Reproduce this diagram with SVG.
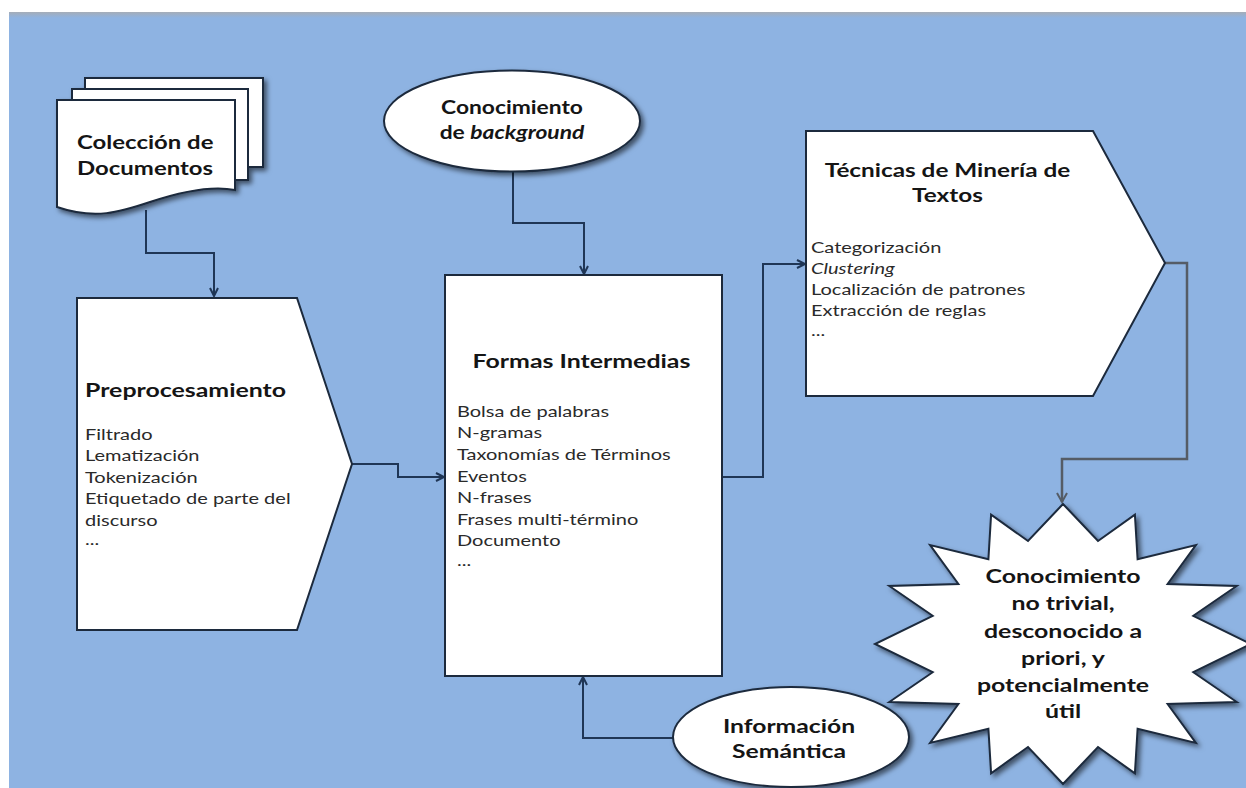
<svg xmlns="http://www.w3.org/2000/svg" width="1246" height="788" viewBox="0 0 1246 788">
<defs>
<filter id="sh" x="-20%" y="-20%" width="150%" height="150%">
<feDropShadow dx="3" dy="3" stdDeviation="2.5" flood-color="#000" flood-opacity="0.55"/>
</filter>
<marker id="arr" markerWidth="12" markerHeight="12" refX="9" refY="5" orient="auto" markerUnits="userSpaceOnUse">
<path d="M1,1 L9,5 L1,9" fill="none" stroke="#1f3656" stroke-width="2"/>
</marker>
<marker id="arrg" markerWidth="14" markerHeight="14" refX="10" refY="6" orient="auto" markerUnits="userSpaceOnUse">
<path d="M1,1 L10,6 L1,11" fill="none" stroke="#555c66" stroke-width="2"/>
</marker>
<linearGradient id="topband" x1="0" y1="0" x2="0" y2="1">
<stop offset="0" stop-color="#a5adb8"/>
<stop offset="1" stop-color="#8eb3e2"/>
</linearGradient>
</defs>
<style>
.shape{fill:#fff;stroke:#1c2a3d;stroke-width:2}
.title{font-family:Lato,"Liberation Sans",sans-serif;font-weight:bold;font-size:19px;fill:#151515}
.item{font-family:Lato,"Liberation Sans",sans-serif;font-size:16px;fill:#2a2a2a}
.conn{fill:none;stroke:#1f3656;stroke-width:2}
.conng{fill:none;stroke:#555c66;stroke-width:2.5}
</style>
<rect x="0" y="0" width="1246" height="788" fill="#fff"/>
<rect x="9" y="12" width="1237" height="776" fill="#8eb3e2"/>
<rect x="9" y="12" width="1237" height="6" fill="url(#topband)"/>

<g id="connectors">
<polyline class="conn" points="146,210 146,253 214,253 214,296" marker-end="url(#arr)"/>
<polyline class="conn" points="513,172 513,223 584,223 584,274" marker-end="url(#arr)"/>
<polyline class="conn" points="352,464 398,464 398,477 444,477" marker-end="url(#arr)"/>
<polyline class="conn" points="722,477 763,477 763,264 805,264" marker-end="url(#arr)"/>
<polyline class="conng" points="1165,263 1187,263 1187,459 1062,459 1062,502" marker-end="url(#arrg)"/>
<polyline class="conn" points="673,738 583,738 583,677" marker-end="url(#arr)"/>
</g>

<g id="documentos">
<g filter="url(#sh)">
<rect class="shape" x="85" y="78" width="178" height="89"/>
<rect class="shape" x="72" y="89" width="176" height="91"/>
<path class="shape" d="M57,100 L235,100 L235,190 C210,185 180,192 150,202 C120,212 95,220 57,207 Z"/>
</g>
<g transform="matrix(1.26,0,0,1,-20.02,0)">
<text class="title" x="77" y="149">Colección de</text>
<text class="title" x="77" y="175">Documentos</text>
</g>
</g>

<g id="background">
<ellipse class="shape" cx="512" cy="121" rx="128" ry="50.5" filter="url(#sh)"/>
<g transform="matrix(1.2,0,0,1,-102.4,0)">
<text class="title" x="512" y="114" text-anchor="middle">Conocimiento</text>
<text class="title" x="512" y="139" text-anchor="middle">de <tspan font-style="italic">background</tspan></text>
</g>
</g>

<g id="preprocesamiento">
<polygon class="shape" points="77,298 297,298 352,464 297,630 77,630"/>
<text class="title" x="85" y="397" transform="matrix(1.31,0,0,1,-26.35,0)">Preprocesamiento</text>
<g transform="matrix(1.25,0,0,1,-21.25,0)">
<text class="item" x="85" y="440">Filtrado</text>
<text class="item" x="85" y="461.5">Lematización</text>
<text class="item" x="85" y="483">Tokenización</text>
<text class="item" x="85" y="504.5">Etiquetado de parte del</text>
<text class="item" x="85" y="526">discurso</text>
<text class="item" x="85" y="545">...</text>
</g>
</g>

<g id="formas">
<rect class="shape" x="445" y="275" width="277" height="401"/>
<text class="title" x="581.5" y="368" text-anchor="middle" transform="matrix(1.31,0,0,1,-180.27,0)">Formas Intermedias</text>
<g transform="matrix(1.25,0,0,1,-114.25,0)">
<text class="item" x="457" y="417">Bolsa de palabras</text>
<text class="item" x="457" y="438.5">N-gramas</text>
<text class="item" x="457" y="460">Taxonomías de Términos</text>
<text class="item" x="457" y="482">Eventos</text>
<text class="item" x="457" y="503.5">N-frases</text>
<text class="item" x="457" y="525">Frases multi-término</text>
<text class="item" x="457" y="546.5">Documento</text>
<text class="item" x="457" y="566">...</text>
</g>
</g>

<g id="tecnicas">
<polygon class="shape" points="806,131 1093,131 1165,263 1093,396 806,396"/>
<g transform="matrix(1.28,0,0,1,-265.3,0)">
<text class="title" x="947.5" y="177" text-anchor="middle">Técnicas de Minería de</text>
<text class="title" x="947.5" y="202" text-anchor="middle">Textos</text>
</g>
<g transform="matrix(1.25,0,0,1,-202.75,0)">
<text class="item" x="811" y="253">Categorización</text>
<text class="item" x="811" y="274" font-style="italic">Clustering</text>
<text class="item" x="811" y="295">Localización de patrones</text>
<text class="item" x="811" y="316">Extracción de reglas</text>
<text class="item" x="811" y="336">...</text>
</g>
</g>

<g id="conocimiento">
<polygon class="shape" filter="url(#sh)" points="1063,504 1098.0,541.0 1134.9,514.7 1137.6,559.3 1195.9,545.0 1167.6,584.0 1236.7,586.0 1193.3,615.8 1251,644 1193.3,672.2 1236.7,702.0 1167.6,704.0 1195.9,743.0 1137.6,728.7 1134.9,773.3 1098.0,747.0 1063,784 1028.0,747.0 991.1,773.3 988.4,728.7 930.1,743.0 958.4,704.0 889.3,702.0 932.7,672.2 875,644 932.7,615.8 889.3,586.0 958.4,584.0 930.1,545.0 988.4,559.3 991.1,514.7 1028.0,541.0"/>
<g transform="matrix(1.31,0,0,1,-329.5,0)">
<text class="title" x="1063" y="583" text-anchor="middle">Conocimiento</text>
<text class="title" x="1063" y="610" text-anchor="middle">no trivial,</text>
<text class="title" x="1063" y="638" text-anchor="middle">desconocido a</text>
<text class="title" x="1063" y="665" text-anchor="middle">priori, y</text>
<text class="title" x="1063" y="692" text-anchor="middle">potencialmente</text>
<text class="title" x="1063" y="718" text-anchor="middle">útil</text>
</g>
</g>

<g id="semantica">
<ellipse class="shape" cx="791" cy="737" rx="118" ry="50" filter="url(#sh)"/>
<g transform="matrix(1.3,0,0,1,-236.7,0)">
<text class="title" x="789" y="733" text-anchor="middle">Información</text>
<text class="title" x="789" y="758" text-anchor="middle">Semántica</text>
</g>
</g>
</svg>
